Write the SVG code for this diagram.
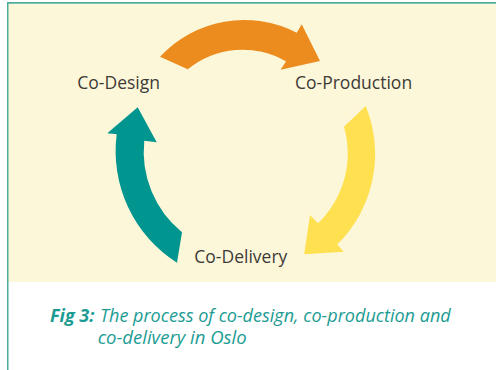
<svg xmlns="http://www.w3.org/2000/svg" width="496" height="370" viewBox="0 0 496 370">
  <style>
    .lbl { font-family: "Open Sans", "Noto Sans", sans-serif; font-size: 17.5px; fill: #3d3b37; }
    .cap { font-family: "Open Sans", "Noto Sans", sans-serif; font-size: 18px; font-style: italic; fill: #1b9c93; }
    .capb { font-weight: bold; }
  </style>
  <rect x="0" y="0" width="496" height="370" fill="#ffffff"/>
  <rect x="8" y="3.5" width="488" height="278.5" fill="#fdf7da"/>
  <rect x="7" y="2" width="489" height="1.7" fill="#4bab9c"/>
  <rect x="7" y="2" width="1.5" height="368" fill="#4bab9c"/>

  <g id="connectors">
    <path id="arrow-design-production" fill="#ec8c1f" d="M160,56.7 A115,115 0 0 1 296.7,32.7 L301.7,24.3 L320,61 L280.5,69.8 L286,61.5 A86,86 0 0 0 187.7,69.3 Z"/>
    <path id="arrow-production-delivery" fill="#ffe050" d="M365.7,106 A127,127 0 0 1 337.2,244.5 L343.8,251.7 L304.2,254.2 L310,215 L318,223.3 A97,97 0 0 0 344,126.7 Z"/>
    <path id="arrow-delivery-design" fill="#00958e" d="M177,262.7 A132,132 0 0 1 116.7,134.3 L107.3,133.3 L137.7,107.3 L156.7,142.3 L144.3,140.7 A104,104 0 0 0 182,232.3 Z"/>
  </g>

  <g id="node-co-design">
    <text class="lbl" x="77.3" y="89">Co-Design</text>
  </g>
  <g id="node-co-production">
    <text class="lbl" x="295" y="89">Co-Production</text>
  </g>
  <g id="node-co-delivery">
    <text class="lbl" x="194.3" y="263.3">Co-Delivery</text>
  </g>

  <g id="caption">
    <text class="cap capb" x="50" y="322.3">Fig 3:</text>
    <text class="cap" x="100" y="322.3" textLength="350.7" lengthAdjust="spacingAndGlyphs">The process of co-design, co-production and</text>
    <text class="cap" x="97.7" y="344" textLength="149" lengthAdjust="spacingAndGlyphs">co-delivery in Oslo</text>
  </g>
</svg>
